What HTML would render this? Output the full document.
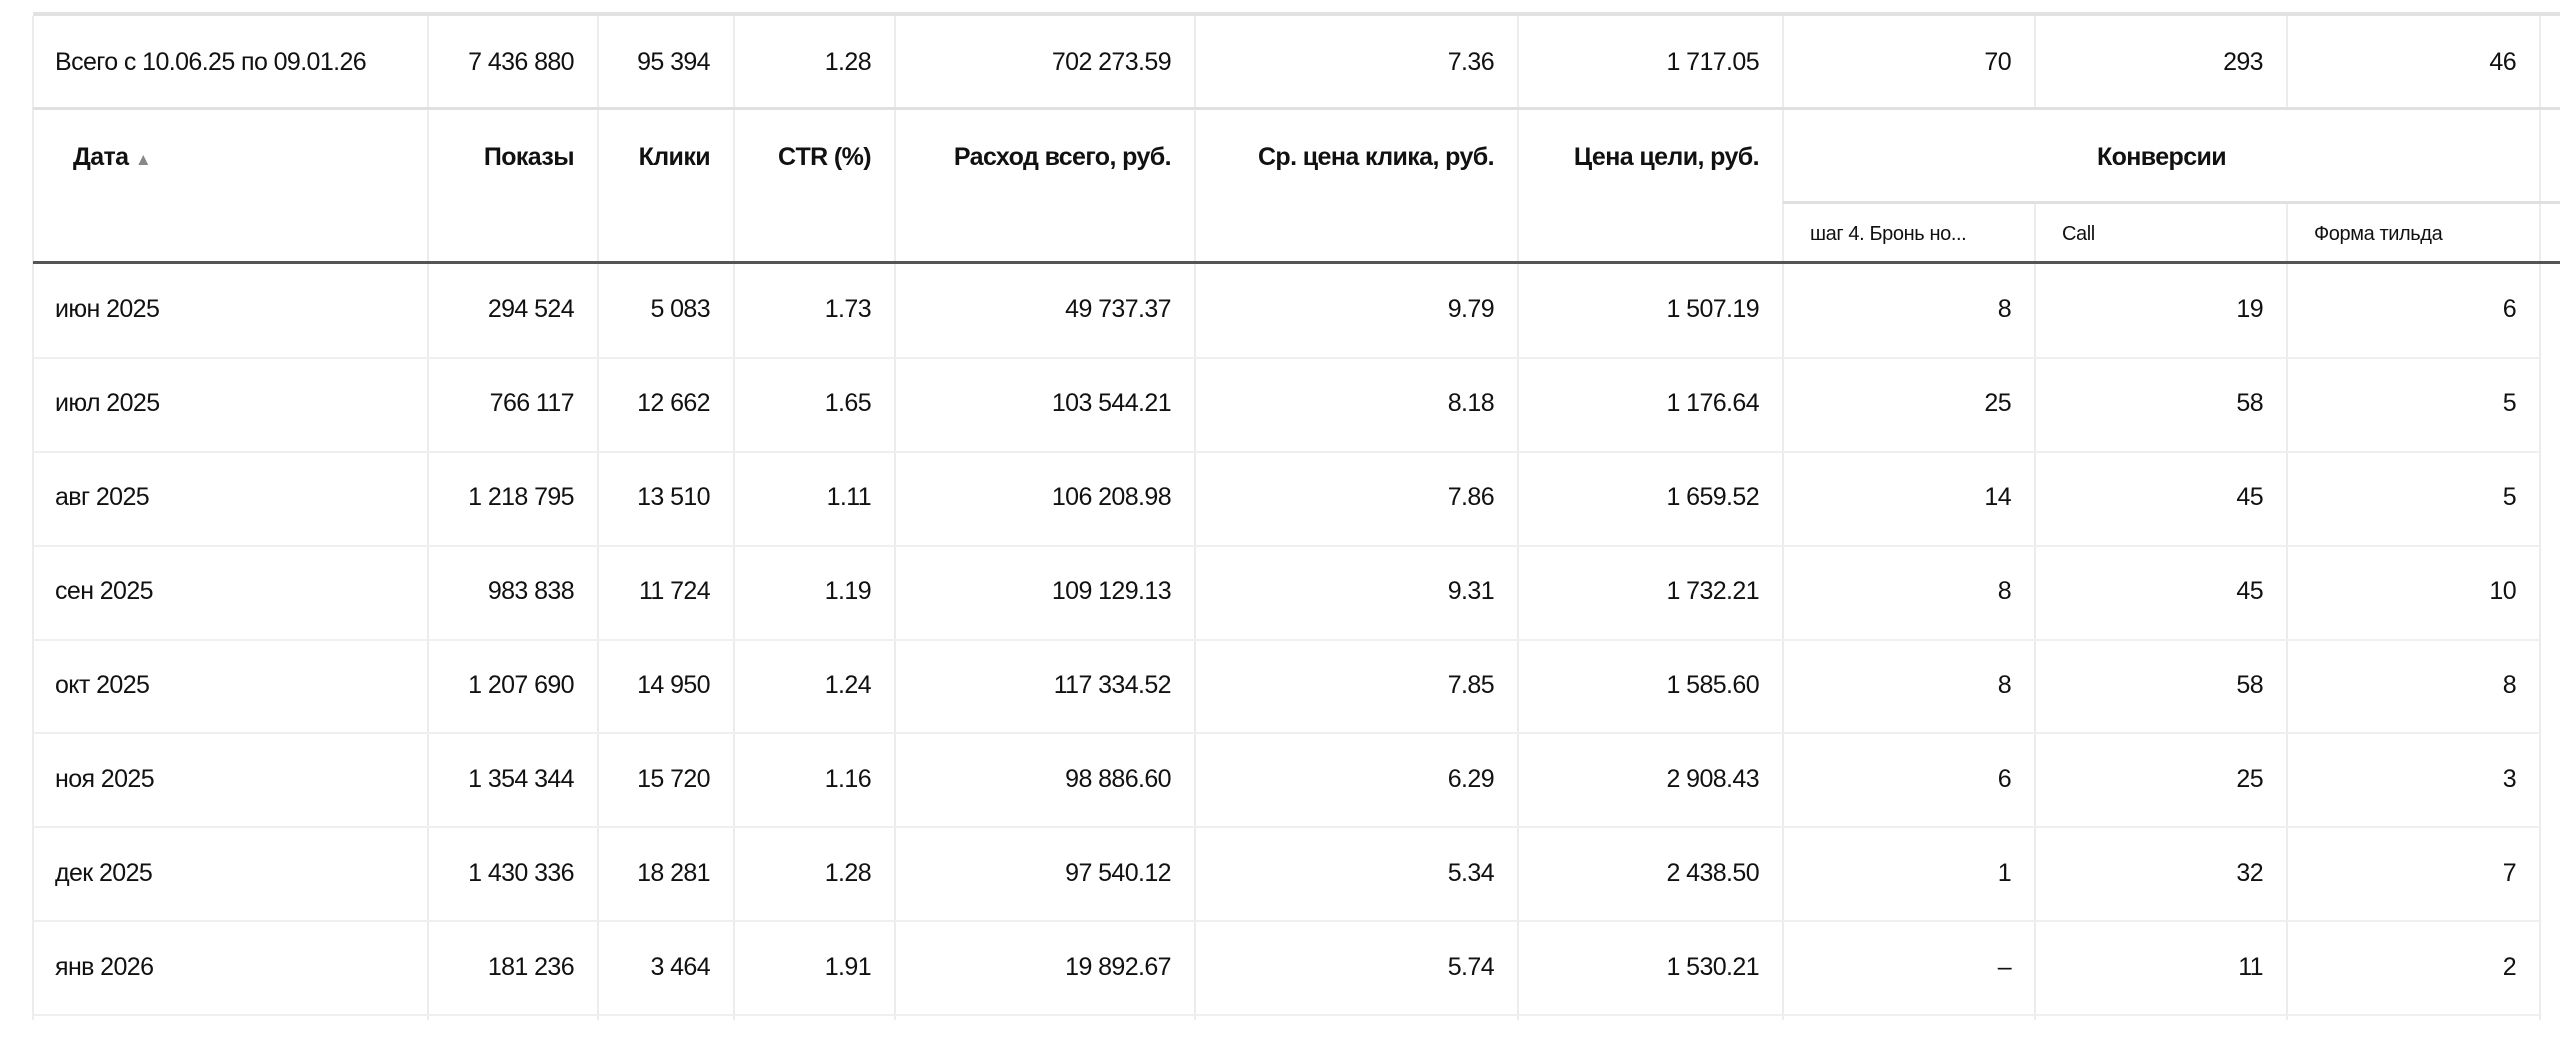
<!DOCTYPE html>
<html><head><meta charset="utf-8"><style>
body{margin:0;width:2560px;height:1046px;background:#fff;position:relative;overflow:hidden;font-family:"Liberation Sans","DejaVu Sans",sans-serif;color:#111;}
.h{position:absolute;background:#e6e6e6;}
.v{position:absolute;width:2px;background:#ececec;}
.t{position:absolute;font-size:25px;letter-spacing:-0.6px;line-height:30px;white-space:nowrap;}
.r{text-align:right;}
.b{font-weight:bold;}
.s{font-size:20px;letter-spacing:-0.4px;}
</style></head><body>
<div id="g"></div>
<script>
var cols=[33,428,598,734,895,1195,1518,1783,2035,2287,2540];
var g='';
for(var i=0;i<cols.length;i++){
 if(i==8||i==9){
  g+='<div class="v" style="left:'+(cols[i]-1)+'px;top:16px;height:92px"></div>';
  g+='<div class="v" style="left:'+(cols[i]-1)+'px;top:203px;height:817px"></div>';
 } else {
  g+='<div class="v" style="left:'+(cols[i]-1)+'px;top:16px;height:1004px"></div>';
 }
}
g+='<div class="h" style="left:33px;top:12px;width:2527px;height:4px;background:#e2e2e2"></div>';
g+='<div class="h" style="left:33px;top:107px;width:2527px;height:3px;background:#e0e0e0"></div>';
g+='<div class="h" style="left:1783px;top:201px;width:777px;height:3px;background:#e0e0e0"></div>';
g+='<div class="h" style="left:33px;top:261px;width:2527px;height:3px;background:#555"></div>';
var rowsep=[358,452,546,640,733,827,921,1015];
rowsep.forEach(function(y){g+='<div class="h" style="left:33px;top:'+(y-1)+'px;width:2507px;height:2px;background:#efefef"></div>';});
function cell(txt,ci,cy,cls,left){
 var x0=cols[ci],x1=cols[ci+1];
 if(left){return '<div class="t '+(cls||'')+'" style="left:'+(x0+left)+'px;top:'+(cy-15)+'px">'+txt+'</div>';}
 return '<div class="t r '+(cls||'')+'" style="left:'+x0+'px;width:'+(x1-x0-24)+'px;top:'+(cy-15)+'px">'+txt+'</div>';
}
var tot=['Всего с 10.06.25 по 09.01.26','7 436 880','95 394','1.28','702 273.59','7.36','1 717.05','70','293','46'];
tot.forEach(function(t,i){g+= i==0?cell(t,0,62,'',22):cell(t,i,62);});
var hd=['Показы','Клики','CTR (%)','Расход всего, руб.','Ср. цена клика, руб.','Цена цели, руб.'];
g+='<div class="t b" style="left:73px;top:142px">Дата <span style="color:#888;font-size:17px">▲</span></div>';
hd.forEach(function(t,i){g+=cell(t,i+1,157,'b');});
g+='<div class="t b" style="left:1783px;width:757px;text-align:center;top:142px">Конверсии</div>';
g+='<div class="t s" style="left:1810px;top:219px">шаг 4. Бронь но...</div>';
g+='<div class="t s" style="left:2062px;top:219px">Call</div>';
g+='<div class="t s" style="left:2314px;top:219px">Форма тильда</div>';
var data=[
['июн 2025','294 524','5 083','1.73','49 737.37','9.79','1 507.19','8','19','6'],
['июл 2025','766 117','12 662','1.65','103 544.21','8.18','1 176.64','25','58','5'],
['авг 2025','1 218 795','13 510','1.11','106 208.98','7.86','1 659.52','14','45','5'],
['сен 2025','983 838','11 724','1.19','109 129.13','9.31','1 732.21','8','45','10'],
['окт 2025','1 207 690','14 950','1.24','117 334.52','7.85','1 585.60','8','58','8'],
['ноя 2025','1 354 344','15 720','1.16','98 886.60','6.29','2 908.43','6','25','3'],
['дек 2025','1 430 336','18 281','1.28','97 540.12','5.34','2 438.50','1','32','7'],
['янв 2026','181 236','3 464','1.91','19 892.67','5.74','1 530.21','–','11','2']];
data.forEach(function(r,ri){
 var cy=264+ri*94+47-2;
 r.forEach(function(t,i){g+= i==0?cell(t,0,cy,'',22):cell(t,i,cy);});
});
document.getElementById('g').innerHTML=g;
</script>
</body></html>
